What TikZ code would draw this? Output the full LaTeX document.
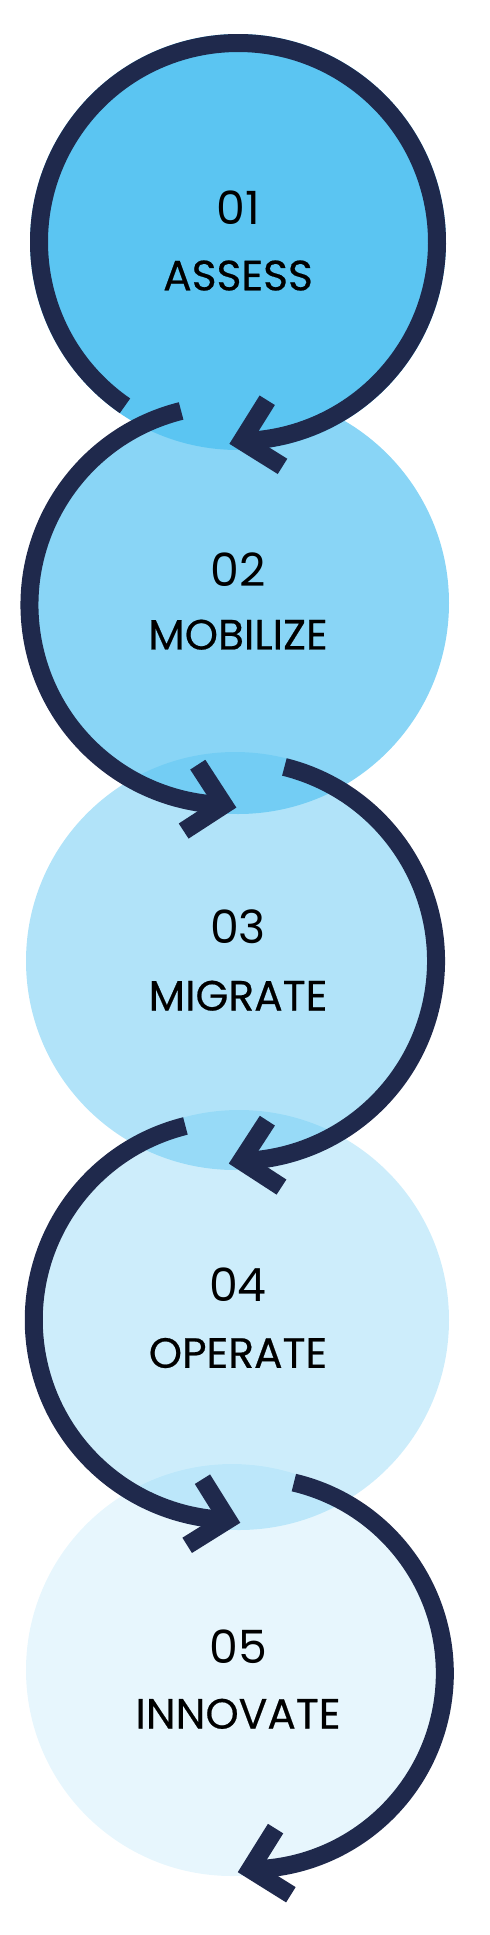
\documentclass[tikz,border=0pt]{standalone}
\usepackage{fontspec}
\setmainfont{Poppins}
\newfontfamily\stagefont{Poppins}[FakeBold=0.5]
\definecolor{skyfill}{HTML}{5BC5F2}
\definecolor{ringnavy}{HTML}{1F294C}
\tikzset{
  stage/.style={circle, fill=skyfill, inner sep=0pt},
  stepnum/.style={font=\fontsize{46}{50}\selectfont, inner sep=0pt},
  steplabel/.style={font=\stagefont\fontsize{42.5}{48}\selectfont, inner sep=0pt},
  ring/.style={draw=ringnavy, line width=18bp},
  tip/.style={ring, line join=miter},
}
\begin{document}
\begin{tikzpicture}[x=1bp, y=-1bp]     % five stages, each one looping into the next
  \useasboundingbox (0,0) rectangle (490,1935);
  % fills, lightest first so the top one stays solid
  \foreach \i/\x/\y/\r/\o in {5/232/1670/206/.15, 4/239/1320/210/.30, 3/235/961/209/.48, 2/238/603/211/.72, 1/238/242/208/1}
    \node[stage, minimum size={2*\r*1bp}, fill opacity=\o] (c\i) at (\x,\y) {};
  % rings with their arrow heads
  \foreach \i/\x/\y/\r/\a/\b/\f in {1/238/242/199/124.6/448.9/167, 2/229.5/605/200/256/91.6/12, 3/236/961/200/-76/88.5/168, 4/233.8/1320/200/256/91.7/13, 5/248.8/1673.3/196/-76.7/89.6/167}
  {
    \coordinate (r\i) at (\x,\y);
    \draw[ring] (r\i) ++(\a:\r) arc[start angle=\a, end angle=\b, radius=\r] coordinate (e\i);
    \draw[tip] (e\i) ++(\f+135:48) -- (e\i) -- ++(\f+225:48);
  }
  % texts
  \foreach \i/\ny/\ly/\name in {1/207.7/275.5/ASSESS, 2/570/634.7/MOBILIZE, 3/926.7/995.7/MIGRATE, 4/1285/1353/OPERATE, 5/1646.7/1713.8/INNOVATE}
  {
    \node[stepnum] (n\i) at (238,\ny) {0\i};
    \node[steplabel] (t\i) at (238,\ly) {\name};
  }
\end{tikzpicture}
\end{document}
